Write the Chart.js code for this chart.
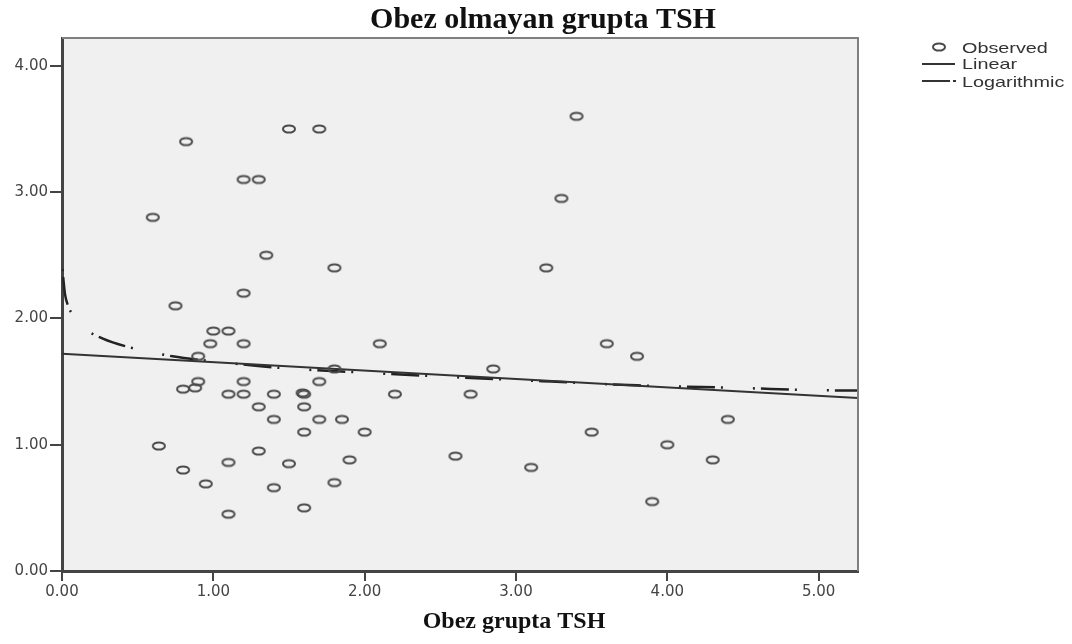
<!DOCTYPE html>
<html><head><meta charset="utf-8">
<script src="https://cdn.jsdelivr.net/npm/chart.js@4"></script>
<style>html,body{margin:0;padding:0;background:#fff;}</style>
</head><body>
<canvas id="c" width="1072" height="644"></canvas>
<script>
const chartTitle = 'Obez olmayan grupta TSH';
const xAxisTitle = 'Obez grupta TSH';
const seriesNames = ['Observed', 'Linear', 'Logarithmic'];
const xTickValues = [0, 1, 2, 3, 4, 5];
const xTickLabels = ['0.00', '1.00', '2.00', '3.00', '4.00', '5.00'];
const yTickValues = [0, 1, 2, 3, 4];
const yTickLabels = ['0.00', '1.00', '2.00', '3.00', '4.00'];
const xRange = [0, 5.26];
const yRange = [0, 4.22];

const obsX = [0.82, 1.50, 1.70, 1.20, 1.30, 3.40, 3.30, 0.60, 1.35, 1.80, 3.20, 1.20, 0.75, 1.00, 1.10,
  0.98, 1.20, 2.10, 3.60, 0.90, 3.80, 1.80, 2.85, 0.90, 1.20, 1.70, 0.80, 0.88, 1.10, 1.20,
  1.40, 1.60, 1.59, 2.20, 2.70, 1.30, 1.60, 1.40, 1.70, 1.85, 4.40, 1.60, 2.00, 3.50, 0.64,
  4.00, 1.30, 2.60, 1.90, 4.30, 1.10, 1.50, 0.80, 3.10, 1.80, 0.95, 1.40, 3.90, 1.60, 1.10];
const obsY = [3.40, 3.50, 3.50, 3.10, 3.10, 3.60, 2.95, 2.80, 2.50, 2.40, 2.40, 2.20, 2.10, 1.90, 1.90,
  1.80, 1.80, 1.80, 1.80, 1.70, 1.70, 1.60, 1.60, 1.50, 1.50, 1.50, 1.44, 1.45, 1.40, 1.40,
  1.40, 1.40, 1.41, 1.40, 1.40, 1.30, 1.30, 1.20, 1.20, 1.20, 1.20, 1.10, 1.10, 1.10, 0.99,
  1.00, 0.95, 0.91, 0.88, 0.88, 0.86, 0.85, 0.80, 0.82, 0.70, 0.69, 0.66, 0.55, 0.50, 0.45];

const linX = [0, 5.26];
const linY = [1.72, 1.37];

const logX = [0.003, 0.01, 0.02, 0.04, 0.07, 0.15, 0.27, 0.45, 0.73, 1.00, 1.42, 2.00, 2.50, 3.23, 3.80, 4.46, 5.12, 5.26];
const logY = [2.39, 2.30, 2.19, 2.10, 2.03, 1.92, 1.84, 1.77, 1.70, 1.66, 1.61, 1.57, 1.54, 1.50, 1.47, 1.45, 1.43, 1.43];

const zip = (xs, ys) => xs.map((x, i) => ({x: x, y: ys[i]}));

// ellipse marker (the reference markers are slightly wider than tall)
const ring = document.createElement('canvas');
ring.width = 18; ring.height = 12;
(function(){
  const g = ring.getContext('2d');
  g.strokeStyle = '#4a4a4a'; g.lineWidth = 2;
  g.beginPath(); g.ellipse(9, 6, 6, 3.6, 0, 0, Math.PI * 2); g.stroke();
})();

const logDash = [2, 6, 28, 6, 2, 30];

const decor = {
  id: 'decor',
  beforeDraw(chart) {
    const {ctx, chartArea: a} = chart;
    ctx.save();
    ctx.fillStyle = '#f0f0f0';
    ctx.fillRect(a.left, a.top, a.right - a.left, a.bottom - a.top);
    ctx.restore();
  },
  afterDraw(chart) {
    const {ctx, chartArea: a} = chart;
    ctx.save();
    ctx.strokeStyle = '#808080'; ctx.lineWidth = 2;
    ctx.beginPath();
    ctx.moveTo(a.left, a.top); ctx.lineTo(a.right, a.top); ctx.lineTo(a.right, a.bottom);
    ctx.stroke();
    ctx.fillStyle = '#111';
    ctx.textAlign = 'center'; ctx.textBaseline = 'alphabetic';
    ctx.font = 'bold 30px "Liberation Serif"';
    ctx.fillText(chartTitle, 543, 28);
    ctx.font = 'bold 24px "Liberation Serif"';
    ctx.fillText(xAxisTitle, 514, 628);
    const lx = 962;
    const ys = [49, 65, 83];
    ctx.drawImage(ring, 939 - 9, 47 - 6);
    ctx.strokeStyle = '#333'; ctx.lineWidth = 2;
    ctx.beginPath(); ctx.moveTo(922, 64); ctx.lineTo(955, 64); ctx.stroke();
    ctx.beginPath(); ctx.moveTo(922, 81); ctx.lineTo(950, 81); ctx.stroke();
    ctx.beginPath(); ctx.moveTo(953, 81); ctx.lineTo(956, 81); ctx.stroke();
    ctx.fillStyle = '#333';
    ctx.font = '15px "Liberation Sans"';
    ctx.textAlign = 'left'; ctx.textBaseline = 'middle';
    seriesNames.forEach((n, i) => {
      ctx.save();
      ctx.translate(lx, ys[i]);
      ctx.scale(1.32, 1);
      ctx.fillText(n, 0, 0);
      ctx.restore();
    });
    ctx.restore();
  }
};

new Chart(document.getElementById('c'), {
  type: 'scatter',
  data: {
    datasets: [
      {
        label: seriesNames[0],
        data: zip(obsX, obsY),
        pointStyle: ring,
        pointRadius: 6,
        showLine: false
      },
      {
        label: seriesNames[1],
        data: zip(linX, linY),
        showLine: true,
        borderColor: '#333',
        borderWidth: 2,
        pointRadius: 0
      },
      {
        label: seriesNames[2],
        data: zip(logX, logY),
        showLine: true,
        borderColor: '#222',
        borderWidth: 2.5,
        borderDash: logDash,
        cubicInterpolationMode: 'monotone',
        pointRadius: 0
      }
    ]
  },
  options: {
    responsive: false,
    animation: false,
    events: [],
    devicePixelRatio: 1,
    layout: { padding: { left: 0, right: 214, top: 38, bottom: 0 } },
    plugins: { legend: { display: false }, tooltip: { enabled: false }, title: { display: false } },
    scales: {
      x: {
        type: 'linear', min: xRange[0], max: xRange[1],
        afterFit: s => { s.height = 73; },
        afterBuildTicks: s => { s.ticks = xTickValues.map(v => ({value: v})); },
        ticks: {
          callback: (v) => xTickLabels[xTickValues.indexOf(v)],
          color: '#444', font: { family: 'DejaVu Sans', size: 15 }, padding: 2, maxRotation: 0
        },
        grid: { drawOnChartArea: false, drawTicks: true, tickLength: 10, color: '#444', lineWidth: 2 },
        border: { display: true, color: '#444', width: 3 }
      },
      y: {
        type: 'linear', min: yRange[0], max: yRange[1],
        afterFit: s => { s.width = 62; },
        afterBuildTicks: s => { s.ticks = yTickValues.map(v => ({value: v})); },
        ticks: {
          callback: (v) => yTickLabels[yTickValues.indexOf(v)],
          color: '#444', font: { family: 'DejaVu Sans', size: 15 }, padding: 2
        },
        grid: { drawOnChartArea: false, drawTicks: true, tickLength: 12, color: '#444', lineWidth: 2 },
        border: { display: true, color: '#444', width: 3 }
      }
    }
  },
  plugins: [decor]
});
</script>
</body></html>
